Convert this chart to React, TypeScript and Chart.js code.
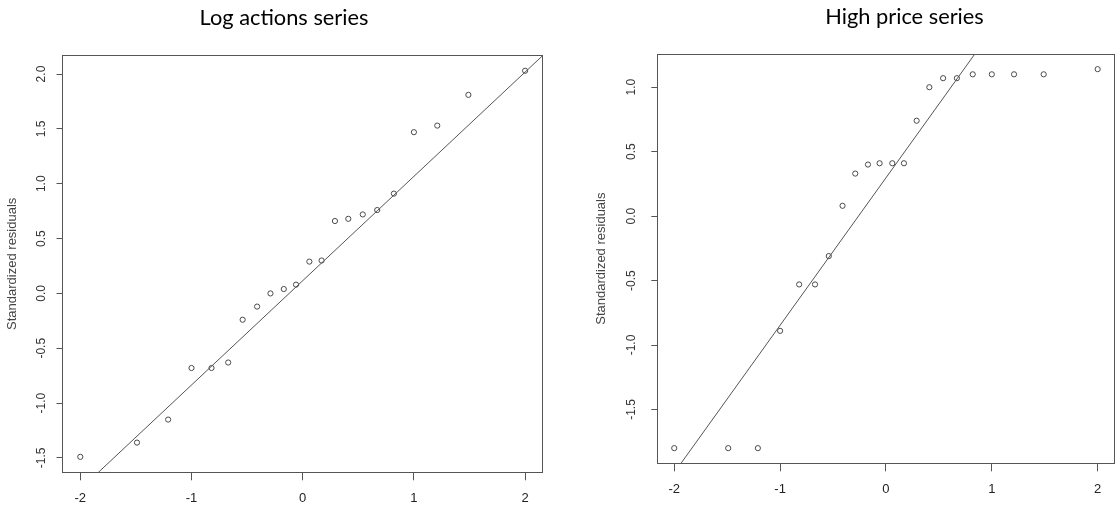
import React, { useEffect, useRef } from "react";
import { Chart, registerables } from "chart.js";

Chart.register(...registerables);

// ---------- data ----------
const leftTitle = "Log actions series";
const rightTitle = "High price series";
const yAxisTitle = "Standardized residuals";

const xTickValues = [-2, -1, 0, 1, 2];
const leftYTickValues = [-1.5, -1.0, -0.5, 0.0, 0.5, 1.0, 1.5, 2.0];
const rightYTickValues = [-1.5, -1.0, -0.5, 0.0, 0.5, 1.0];

// theoretical normal quantiles (x positions of the points, same for both panels)
const theoreticalQuantiles = [
  -2.0, -1.49, -1.21, -1.0, -0.82, -0.67, -0.54, -0.41, -0.29, -0.17, -0.06,
  0.06, 0.17, 0.29, 0.41, 0.54, 0.67, 0.82, 1.0, 1.21, 1.49, 2.0,
];

const leftResiduals = [
  -1.49, -1.36, -1.15, -0.68, -0.68, -0.63, -0.24, -0.12, 0.0, 0.04, 0.08,
  0.29, 0.3, 0.66, 0.68, 0.72, 0.76, 0.91, 1.47, 1.53, 1.81, 2.03,
];

const rightResiduals = [
  -1.8, -1.8, -1.8, -0.89, -0.53, -0.53, -0.31, 0.08, 0.33, 0.4, 0.41, 0.41,
  0.41, 0.74, 1.0, 1.07, 1.07, 1.1, 1.1, 1.1, 1.1, 1.14,
];

// reference lines (intercept, slope)
const leftLineCoef = [0.116, 0.951];
const rightLineCoef = [0.297, 1.144];

// ---------- styling / layout ----------
const AXIS_FONT = "'Liberation Sans', Arial, Helvetica, sans-serif";
const TITLE_FONT = "Lato, 'Open Sans', sans-serif";
const INK = "#555555";

type Panel = {
  title: string;
  yTicks: number[];
  residuals: number[];
  coef: number[];
  canvasLeft: number;
  canvasWidth: number;
  plotLeft: number;
  plotRight: number;
  plotTop: number;
  plotBottom: number;
  titlePadTop: number;
  yTickPad: number;
  yTitlePad: number;
};

const H = 508;
const TITLE_SIZE = 21.8;
const TITLE_LH = 1.2;

function padRange(v: number[]): [number, number] {
  const mn = Math.min(...v);
  const mx = Math.max(...v);
  const r = mx - mn;
  return [mn - 0.04 * r, mx + 0.04 * r];
}

function makeConfig(p: Panel): any {
  const [xMin, xMax] = padRange(theoreticalQuantiles);
  const [yMin, yMax] = padRange(p.residuals);
  const points = theoreticalQuantiles.map((x, i) => ({ x, y: p.residuals[i] }));
  const lineXs = [xMin - 1, xMax + 1];
  const linePts = lineXs.map((x) => ({ x, y: p.coef[0] + p.coef[1] * x }));
  const titleBlock = TITLE_SIZE * TITLE_LH;
  return {
    type: "scatter",
    data: {
      datasets: [
        {
          type: "line",
          data: linePts,
          borderColor: INK,
          borderWidth: 1,
          pointRadius: 0,
          fill: false,
          tension: 0,
        },
        {
          type: "scatter",
          data: points,
          pointStyle: "circle",
          pointRadius: 2.6,
          borderColor: "#4a4a4a",
          borderWidth: 1,
          backgroundColor: "rgba(0,0,0,0)",
        },
      ],
    },
    options: {
      responsive: false,
      animation: false,
      devicePixelRatio: 1,
      events: [],
      layout: { padding: 0 },
      plugins: {
        legend: { display: false },
        tooltip: { enabled: false },
        title: {
          display: true,
          text: p.title,
          color: "#000000",
          font: { family: TITLE_FONT, size: TITLE_SIZE, weight: "normal", lineHeight: TITLE_LH },
          padding: { top: p.titlePadTop, bottom: p.plotTop - p.titlePadTop - titleBlock },
        },
      },
      scales: {
        x: {
          type: "linear",
          position: "bottom",
          min: xMin,
          max: xMax,
          afterBuildTicks: (s: any) => {
            s.ticks = xTickValues.map((v) => ({ value: v }));
          },
          afterFit: (s: any) => {
            s.height = H - p.plotBottom;
          },
          ticks: {
            color: "#222222",
            font: { family: AXIS_FONT, size: 13 },
            padding: 10,
            autoSkip: false,
            maxRotation: 0,
            callback: (v: any) => String(v),
          },
          grid: { display: true, drawOnChartArea: false, drawTicks: true, tickLength: 8, color: INK },
          border: { display: true, color: INK, width: 1 },
        },
        y: {
          type: "linear",
          position: "left",
          min: yMin,
          max: yMax,
          afterBuildTicks: (s: any) => {
            s.ticks = p.yTicks.map((v) => ({ value: v }));
          },
          afterFit: (s: any) => {
            s.width = p.plotLeft;
          },
          ticks: {
            color: "#333333",
            font: { family: AXIS_FONT, size: 12 },
            padding: p.yTickPad,
            autoSkip: false,
            minRotation: 90,
            maxRotation: 90,
            crossAlign: "center",
            callback: (v: any) => Number(v).toFixed(1),
          },
          grid: { display: true, drawOnChartArea: false, drawTicks: true, tickLength: 6, color: INK },
          border: { display: true, color: INK, width: 1 },
          title: {
            display: true,
            text: yAxisTitle,
            color: "#444444",
            font: { family: AXIS_FONT, size: 13, lineHeight: 1.2 },
            padding: { top: p.yTitlePad, bottom: 0 },
          },
        },
        x2: {
          type: "linear",
          axis: "x",
          position: "top",
          min: xMin,
          max: xMax,
          afterFit: (s: any) => {
            s.height = 0;
          },
          ticks: { display: false },
          grid: { display: false },
          border: { display: true, color: INK, width: 1 },
        },
        y2: {
          type: "linear",
          axis: "y",
          position: "right",
          min: yMin,
          max: yMax,
          afterFit: (s: any) => {
            s.width = p.canvasWidth - p.plotRight;
          },
          ticks: { display: false },
          grid: { display: false },
          border: { display: true, color: INK, width: 1 },
        },
      },
    },
  };
}

const leftPanel: Panel = {
  title: leftTitle,
  yTicks: leftYTickValues,
  residuals: leftResiduals,
  coef: leftLineCoef,
  canvasLeft: 0,
  canvasWidth: 568,
  plotLeft: 62.5,
  plotRight: 542.9,
  plotTop: 55.3,
  plotBottom: 472.3,
  titlePadTop: 5.0,
  yTickPad: 4.5,
  yTitlePad: 4.7,
};

const rightPanel: Panel = {
  title: rightTitle,
  yTicks: rightYTickValues,
  residuals: rightResiduals,
  coef: rightLineCoef,
  canvasLeft: 568,
  canvasWidth: 673,
  plotLeft: 89.3,
  plotRight: 546.6,
  plotTop: 54,
  plotBottom: 463.3,
  titlePadTop: 3.5,
  yTickPad: 9,
  yTitlePad: 25.9,
};

function QQPanel({ panel }: { panel: Panel }) {
  const ref = useRef<HTMLCanvasElement | null>(null);
  useEffect(() => {
    if (!ref.current) return;
    const chart = new Chart(ref.current, makeConfig(panel));
    return () => chart.destroy();
  }, [panel]);
  return (
    <canvas
      ref={ref}
      width={panel.canvasWidth}
      height={H}
      style={{
        position: "absolute",
        left: panel.canvasLeft,
        top: 0,
        width: panel.canvasWidth,
        height: H,
        display: "block",
      }}
    />
  );
}

export default function App() {
  return (
    <div
      style={{
        position: "fixed",
        left: 0,
        top: 0,
        width: 1118,
        height: H,
        overflow: "hidden",
        background: "#ffffff",
      }}
    >
      <QQPanel panel={leftPanel} />
      <QQPanel panel={rightPanel} />
    </div>
  );
}
